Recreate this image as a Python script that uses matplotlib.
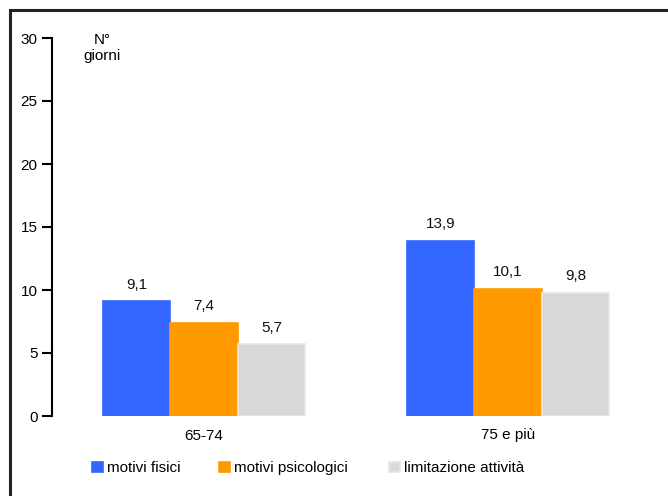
import matplotlib
matplotlib.use("Agg")
import matplotlib.pyplot as plt
import numpy as np
from matplotlib.patches import Rectangle

plt.rcParams['font.family'] = ['Liberation Sans', 'DejaVu Sans']

categories = ["65-74", "75 e più"]
series_names = ["motivi fisici", "motivi psicologici", "limitazione attività"]
fisici = [9.1, 13.9]
psicologici = [7.4, 10.1]
limitazione = [5.7, 9.8]
value_labels = [["9,1", "13,9"], ["7,4", "10,1"], ["5,7", "9,8"]]
colors = ["#3366FF", "#FF9900", "#D9D9D9"]
edges = ["#3366FF", "#FF9900", "#E6E6E6"]
yticks = [0, 5, 10, 15, 20, 25, 30]

FS = 11

fig = plt.figure(figsize=(6.68, 4.96), dpi=100)
ax = fig.add_axes([52/668, 80/496, 608/668, 378/496])

x = np.arange(len(categories))
w = 0.222
data = [fisici, psicologici, limitazione]
handles = []
for i, (vals, c, ec) in enumerate(zip(data, colors, edges)):
    pos = x + (i - 1) * w
    b = ax.bar(pos, vals, width=w, color=c, edgecolor=ec, linewidth=1.2,
               label=series_names[i])
    handles.append(b)
    for p, v, t in zip(pos, vals, value_labels[i]):
        ax.annotate(t, (p, v), xytext=(0, 12), textcoords="offset points",
                    ha="center", va="center", fontsize=FS, color="#111111")

ax.set_xlim(-0.5, 1.5)
ax.set_ylim(0, 30)
ax.set_yticks(yticks)
ax.set_yticklabels([str(t) for t in yticks], fontsize=FS)
ax.set_xticks(x)
ax.set_xticklabels(categories, fontsize=FS)
ax.tick_params(axis='x', length=0, pad=9)
ax.tick_params(axis='y', length=7, width=1.5, pad=3.5, direction='out')
for s in ["top", "right", "bottom"]:
    ax.spines[s].set_visible(False)
ax.spines["left"].set_linewidth(1.5)

ax.text(0.082, (416 - 40) / 378, "N°", transform=ax.transAxes, ha="center",
        va="center", fontsize=FS)
ax.text(0.082, (416 - 56) / 378, "giorni", transform=ax.transAxes, ha="center",
        va="center", fontsize=FS)

marker_x = [92, 219, 389]
for h, name, mx in zip(handles, series_names, marker_x):
    fig.legend(handles=[h], labels=[name], loc="center left",
               bbox_to_anchor=(mx / 668, 1 - 468 / 496), frameon=False,
               fontsize=FS, handlelength=0.72, handleheight=0.65,
               handletextpad=0.25, borderaxespad=0, borderpad=0)

fig.patches.append(Rectangle((9.5/668, -0.1), 1.2, (496 - 9.5)/496 + 0.1,
                             transform=fig.transFigure, fill=False,
                             edgecolor="#222222", linewidth=2.2))

fig.savefig("out.png", dpi=100)
